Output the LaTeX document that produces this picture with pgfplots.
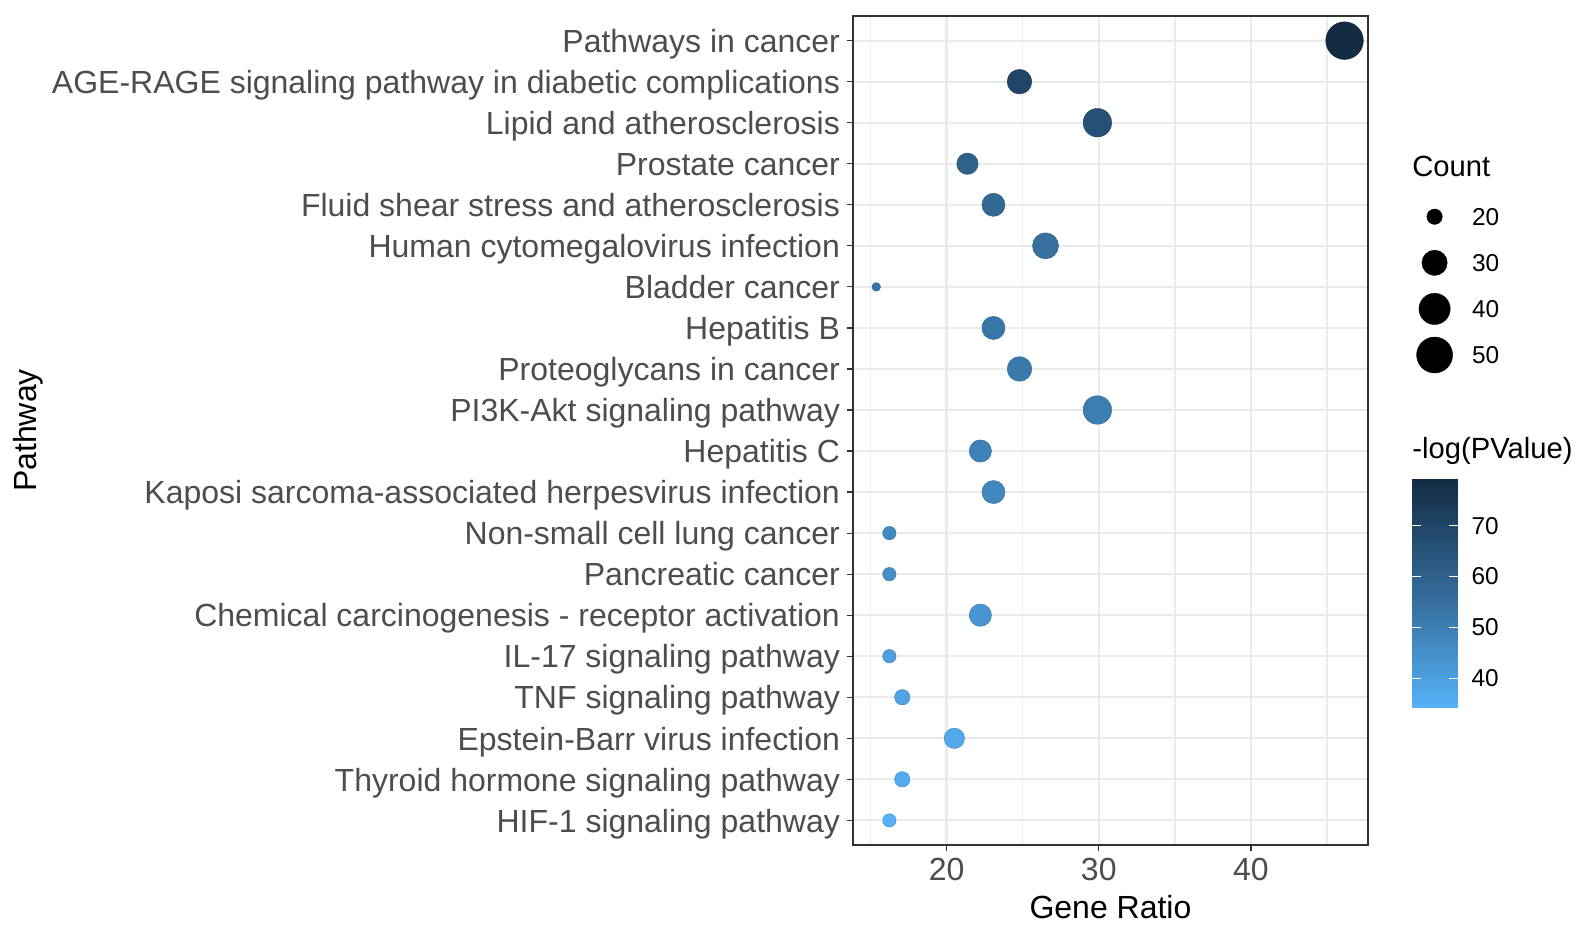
\documentclass[border=0pt]{standalone}
\usepackage{pgfplots}
\pgfplotsset{compat=1.18}
\usepackage{pgfplotstable}
\usetikzlibrary{calc}
\usepackage{fontspec}
\setmainfont{Liberation Sans}

\definecolor{gridgrey}{HTML}{EBEBEB}
\definecolor{grey20}{HTML}{333333}
\definecolor{grey30}{HTML}{4D4D4D}

% row, gene ratio (%), gene count, -log(p)
\pgfplotstableread{
row ratio count nlp
1  46.15 54 79.3
2  24.79 29 70
3  29.91 35 66
4  21.37 25 60
5  23.08 27 57
6  26.50 31 55
7  15.38 18 54
8  23.08 27 53
9  24.79 29 52
10 29.91 35 50.5
11 22.22 26 49
12 23.08 27 48
13 16.24 19 46.5
14 16.24 19 45.5
15 22.22 26 43
16 16.24 19 40
17 17.09 20 38.5
18 20.51 24 37
19 17.09 20 36
20 16.24 19 34.2
}\pathdata

\pgfplotstableread{
row count
1 20
2 30
3 40
4 50
}\sizekey

\pgfplotsset{
  colormap={ggblue}{rgb255=(86,177,247) rgb255=(51,106,152) rgb255=(19,43,67)},
  colormap={allblack}{color=(black) color=(black)},
}
% dot radius (pt) from gene count, area scale 18..54
\newcommand{\dotradius}[1]{2.15+7.25*sqrt(((#1)-18)/36)}

\begin{document}
\begin{tikzpicture}
\begin{axis}[
  name=main,
  scale only axis, width=257.5pt, height=414.5pt,
  xmin=13.85, xmax=47.69,
  ymin=0.4, ymax=20.6, y dir=reverse,
  xtick={20,30,40}, minor xtick={15,25,35,45},
  ytick={1,...,20},
  yticklabels={Pathways in cancer, AGE-RAGE signaling pathway in diabetic complications, Lipid and atherosclerosis, Prostate cancer, Fluid shear stress and atherosclerosis, Human cytomegalovirus infection, Bladder cancer, Hepatitis B, Proteoglycans in cancer, PI3K-Akt signaling pathway, Hepatitis C, Kaposi sarcoma-associated herpesvirus infection, Non-small cell lung cancer, Pancreatic cancer, Chemical carcinogenesis - receptor activation, IL-17 signaling pathway, TNF signaling pathway, Epstein-Barr virus infection, Thyroid hormone signaling pathway, HIF-1 signaling pathway},
  xmajorgrids, xminorgrids, ymajorgrids,
  major grid style={gridgrey, line width=1.1pt},
  minor grid style={gridgrey, line width=0.7pt},
  axis line style={grey20, line width=0.6pt},
  tick align=outside, tick pos=left,
  major tick length=3pt, minor tick length=0pt,
  tick style={grey20, line width=0.6pt},
  ticklabel style={font=\fontsize{16}{19}\selectfont, text=grey30},
  yticklabel style={anchor=base east, yshift=-5.85pt},
  /pgf/number format/assume math mode=true,
  xlabel={Gene Ratio}, ylabel={Pathway},
  label style={font=\fontsize{16}{19}\selectfont},
  xlabel style={at={(axis description cs:0.5,-0.0885)}, anchor=base},
  ylabel style={at={(axis description cs:-1.602,0.5)}, anchor=center},
  colormap name=ggblue,
  point meta min=34.2, point meta max=79.3,
  colorbar,
  colorbar/width=22.85pt,
  colorbar style={
    at={($(parent axis.north east)+(13.5pt,-231.2pt)$)}, anchor=north west,
    scale only axis, width=22.85pt, height=114.7pt,
    ytick={40,50,60,70},
    ytick pos=both, yticklabel pos=right,
    tick align=inside, major tick length=4.6pt,
    tick style={white, line width=0.7pt},
    axis line style={draw=none},
    yticklabel style={font=\fontsize{12.2}{14}\selectfont, text=black, xshift=3.4pt,
      /pgf/number format/assume math mode=true},
  },
]
\addplot[scatter, only marks, mark=*,
  point meta=explicit,
  visualization depends on={\thisrow{count} \as \cnt},
  scatter/@pre marker code/.append style={/tikz/mark size={\dotradius{\cnt}}},
  mark options={line width=0.2pt},
] table[x=ratio, y=row, meta=nlp] {\pathdata};
\end{axis}

% size key for Count
\begin{axis}[
  at={($(main.north east)+(33.3pt,-100.35pt)$)}, anchor=north,
  scale only axis, width=10pt, height=69.15pt,
  xmin=-1, xmax=1, ymin=1, ymax=4, y dir=reverse,
  hide axis, clip=false,
  colormap name=allblack,
  /pgf/number format/assume math mode=true,
]
\addplot[scatter, only marks, mark=*,
  point meta=explicit,
  visualization depends on={\thisrow{count} \as \cnt},
  scatter/@pre marker code/.append style={/tikz/mark size={\dotradius{\cnt}}},
  mark options={line width=0.2pt},
] table[x expr=0, y=row, meta=count] {\sizekey};
\addplot[only marks, mark=none,
  point meta=explicit,
  nodes near coords,
  every node near coord/.append style={anchor=west, xshift=18.5pt, inner sep=0pt,
    font=\fontsize{12.2}{14}\selectfont, text=black},
] table[x expr=0, y=row, meta=count] {\sizekey};
\end{axis}

\node[anchor=base west, inner sep=0pt, font=\fontsize{14.6}{17}\selectfont]
  at ([xshift=22pt,yshift=-80pt]main.north east) {Count};
\node[anchor=base west, inner sep=0pt, font=\fontsize{14.6}{17}\selectfont]
  at ([xshift=22pt,yshift=-221pt]main.north east) {-log(PValue)};

\path ([xshift=-426.5pt,yshift=-47.5pt]main.south west) rectangle ([xshift=106pt,yshift=8pt]main.north east);
\end{tikzpicture}
\end{document}
